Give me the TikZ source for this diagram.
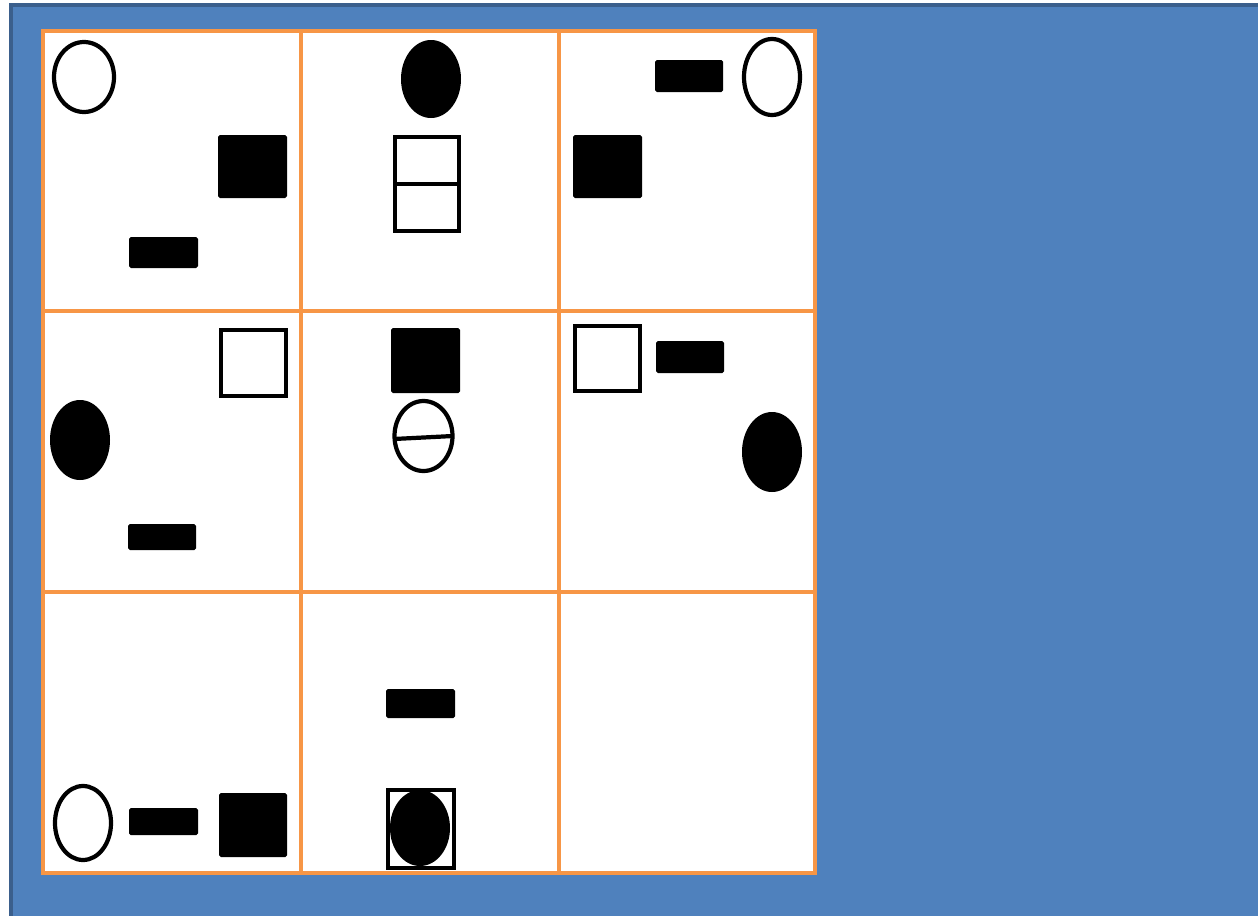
\documentclass[tikz,border=0pt]{standalone}
\usepackage{xcolor}
\definecolor{slideblue}{HTML}{4F81BD}
\definecolor{slideedge}{HTML}{3B5F8C}
\definecolor{gridorange}{HTML}{F79646}

\begin{document}
\begin{tikzpicture}[x=0.02cm, y=-0.02cm,
  openshape/.style={draw=black, line width=2.4pt, fill=white},
  solidshape/.style={fill=black, rounded corners=1pt},
  gridline/.style={draw=gridorange, line width=2.8pt, line cap=rect}]
\useasboundingbox (0,0) rectangle (1258,916);
% slide background
\fill[white] (0,0) rectangle (1258,916);
\fill[slideblue] (10,4) rectangle (1258,916);
\draw[slideedge, line width=2pt] (11,916) -- (11,5) -- (1258,5);
% grid of cells
\fill[white] (43,31) rectangle (815,873);
\foreach \gx in {43,301,559,815}
  \draw[gridline] (\gx,31) -- (\gx,873);
\foreach \gy in {31,311,592,873}
  \draw[gridline] (43,\gy) -- (815,\gy);
% row 1
\draw[openshape] (84,77) ellipse [x radius=30, y radius=35];
\fill[solidshape] (218,135) rectangle (287,198);
\fill[solidshape] (129,237) rectangle (198,268);
\fill[black] (431,79) ellipse [x radius=30, y radius=39];
\draw[openshape] (395,137) rectangle (459,231);
\draw[black, line width=2.4pt] (395,184) -- (459,184);
\fill[solidshape] (655,60) rectangle (723,92);
\draw[openshape] (772,77) ellipse [x radius=28, y radius=38];
\fill[solidshape] (573,135) rectangle (642,198);
% row 2
\draw[openshape] (221,330) rectangle (286,396);
\fill[black] (80,440) ellipse [x radius=30, y radius=40];
\fill[solidshape] (128,524) rectangle (196,550);
\fill[solidshape] (391,328) rectangle (460,393);
\draw[openshape] (423.5,436) ellipse [x radius=29, y radius=35];
\draw[black, line width=2.4pt] (394,439) -- (453,436);
\draw[openshape] (575,326) rectangle (640,391);
\fill[solidshape] (656,341) rectangle (724,373);
\fill[black] (772,452) ellipse [x radius=30, y radius=40];
% row 3
\draw[openshape] (83,823) ellipse [x radius=28, y radius=37];
\fill[solidshape] (129,808) rectangle (198,835);
\fill[solidshape] (219,793) rectangle (287,857);
\fill[solidshape] (386,689) rectangle (455,718);
\draw[openshape] (388,790) rectangle (454,868);
\fill[black] (420,828) ellipse [x radius=30, y radius=38];
\end{tikzpicture}
\end{document}
